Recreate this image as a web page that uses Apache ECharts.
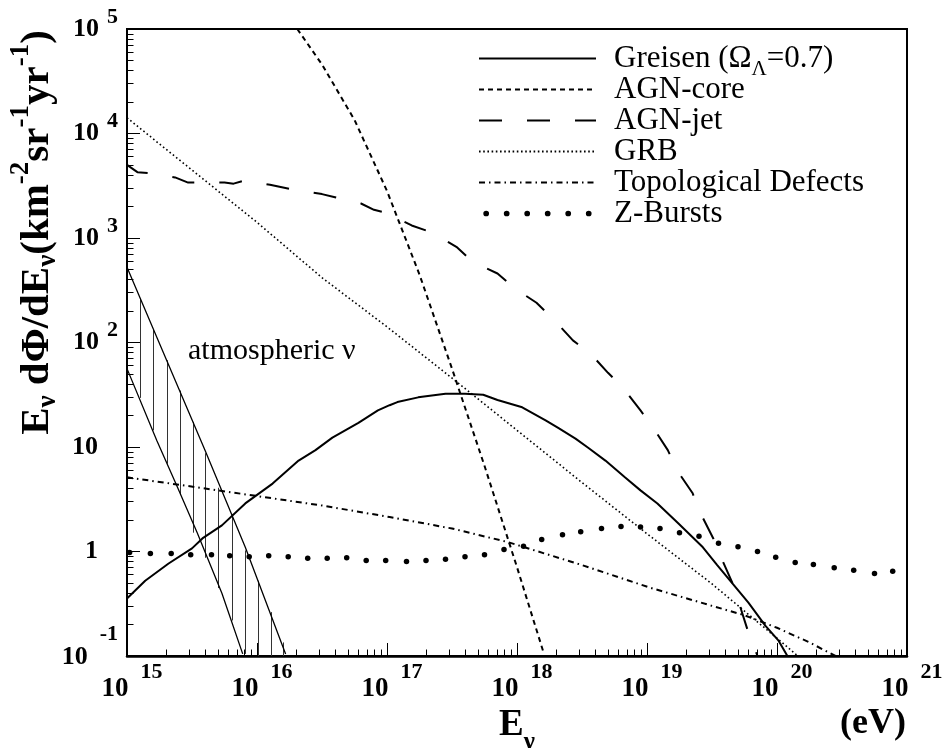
<!DOCTYPE html>
<html><head><meta charset="utf-8">
<script src="https://cdn.jsdelivr.net/npm/echarts@6/dist/echarts.min.js"></script>
<style>html,body{margin:0;padding:0;background:#fff}#c{width:947px;height:748px}</style>
</head><body><div id="c"></div>
<script>
// ---- tick values (powers of ten) ----
const xTickExp = [15, 16, 17, 18, 19, 20, 21];
const yTickExp = [-1, 0, 1, 2, 3, 4, 5];
const minorMult = [2, 3, 4, 5, 6, 7, 8, 9];

// ---- series data: log10(E/eV) and log10(flux) ----
const greisenLgE = [15.0, 15.14, 15.32, 15.5, 15.58, 15.73, 15.91, 16.12, 16.32, 16.45, 16.58, 16.78, 16.93, 17.02, 17.08, 17.24, 17.45, 17.6, 17.74, 17.85, 18.04, 18.22, 18.32, 18.45, 18.55, 18.68, 18.83, 18.95, 19.08, 19.24, 19.43, 19.54, 19.66, 19.78, 19.91, 20.01, 20.08];
const greisenLgF = [-0.45, -0.28, -0.115, 0.03, 0.125, 0.25, 0.46, 0.65, 0.87, 0.97, 1.09, 1.23, 1.35, 1.40, 1.43, 1.475, 1.51, 1.51, 1.50, 1.45, 1.38, 1.255, 1.18, 1.08, 0.99, 0.87, 0.71, 0.585, 0.46, 0.27, 0.04, -0.13, -0.31, -0.49, -0.71, -0.85, -1.0];

const agnCoreLgE = [16.31, 16.5, 16.75, 17.0, 17.25, 17.5, 17.75, 18.0, 18.2];
const agnCoreLgF = [5.0, 4.66, 4.13, 3.45, 2.65, 1.75, 0.82, -0.15, -0.95];

const agnJetLgE = [15.0, 15.08, 15.17, 15.37, 15.47, 15.55, 15.75, 15.82, 15.9, 16.1, 16.25, 16.5, 16.6, 16.8, 16.9, 17.0, 17.19, 17.35, 17.54, 17.66, 17.85, 17.98, 18.15, 18.29, 18.43, 18.56, 18.7, 18.82, 18.95, 19.05, 19.16, 19.24, 19.35, 19.42, 19.51, 19.58, 19.66, 19.72, 19.78, 19.85];
const agnJetLgF = [3.70, 3.63, 3.62, 3.58, 3.53, 3.53, 3.53, 3.52, 3.55, 3.51, 3.47, 3.42, 3.39, 3.33, 3.27, 3.24, 3.12, 3.05, 2.91, 2.77, 2.66, 2.52, 2.38, 2.21, 2.02, 1.90, 1.71, 1.56, 1.35, 1.18, 0.97, 0.76, 0.56, 0.345, 0.125, -0.086, -0.31, -0.54, -0.776, -1.0];

const grbLgE = [15.0, 15.55, 16.0, 16.5, 17.0, 17.55, 18.0, 18.5, 19.0, 19.5, 20.0, 20.16];
const grbLgF = [4.15, 3.60, 3.15, 2.62, 2.15, 1.61, 1.16, 0.66, 0.17, -0.31, -0.83, -1.0];

const tdLgE = [15.0, 15.7, 16.5, 17.02, 17.5, 17.93, 18.5, 19.02, 19.5, 19.75, 20.0, 20.25, 20.45];
const tdLgF = [0.71, 0.585, 0.44, 0.33, 0.22, 0.09, -0.13, -0.345, -0.52, -0.61, -0.73, -0.87, -1.0];

const zbLgE = [15.02, 15.18, 15.34, 15.49, 15.65, 15.79, 15.94, 16.09, 16.24, 16.39, 16.54, 16.69, 16.84, 16.99, 17.15, 17.3, 17.45, 17.6, 17.75, 17.9, 18.05, 18.19, 18.35, 18.49, 18.65, 18.8, 18.95, 19.1, 19.25, 19.4, 19.55, 19.7, 19.85, 19.99, 20.14, 20.28, 20.44, 20.59, 20.75, 20.89];
const zbLgF = [-0.01, -0.02, -0.02, -0.03, -0.03, -0.04, -0.05, -0.04, -0.05, -0.065, -0.065, -0.06, -0.085, -0.085, -0.095, -0.085, -0.075, -0.05, -0.03, 0.02, 0.05, 0.115, 0.16, 0.19, 0.22, 0.24, 0.235, 0.22, 0.18, 0.145, 0.08, 0.045, 0.0, -0.055, -0.105, -0.125, -0.155, -0.18, -0.21, -0.19];

// atmospheric neutrino band
const atmUpLgE = [15.0, 15.24, 15.6, 15.91, 16.22];
const atmUpLgF = [2.72, 2.02, 0.97, 0.04, -0.98];
const atmLoLgE = [15.0, 15.23, 15.39, 15.54, 15.73, 15.89];
const atmLoLgF = [1.75, 1.06, 0.61, 0.18, -0.40, -0.98];
const hatchLgE = [15.1, 15.2, 15.31, 15.41, 15.51, 15.6, 15.7, 15.81, 15.91, 16.01, 16.11, 16.2];
const hatchHiLgF = [2.42, 2.13, 1.83, 1.54, 1.24, 0.94, 0.61, 0.36, 0.01, -0.28, -0.58, -0.87];
const hatchLoLgF = [1.47, 1.16, 0.84, 0.54, 0.18, -0.06, -0.35, -0.66, -0.98, -1.0, -1.0, -1.0];

const legendNames = ['Greisen', 'AGN-core', 'AGN-jet', 'GRB', 'Topological Defects', 'Z-Bursts'];

// ---- build ----
const F = '"Liberation Serif", "Times New Roman", serif';
const P = v => Math.pow(10, v);
const pts = (xs, ys) => xs.map((x, i) => [P(x), P(ys[i])]);
// tiny inward nudge keeps the end ticks inside the floating-point axis extent
const inside = (v, i, a) => i === a.length - 1 ? v * 0.999999 : (i === 0 ? v * 1.000001 : v);
const xMajor = xTickExp.map(P).map(inside);
const yMajor = yTickExp.map(P).map(inside);
const xMinor = [], yMinor = [];
xTickExp.slice(0, -1).forEach(e => minorMult.forEach(m => xMinor.push(m * P(e))));
yTickExp.slice(0, -1).forEach(e => minorMult.forEach(m => yMinor.push(m * P(e))));

const bold = (size, extra) => Object.assign({fontFamily: F, fontWeight: 'bold', fontSize: size, color: '#000'}, extra || {});

let zbIcon = 'path://M-2,2.8L-1.9,2.8M112,2.8L112.1,2.8';
for (let i = 0; i < 6; i++) {
  const cx = 5 + 20 * i;
  zbIcon += 'M' + (cx - 2.8) + ',2.8a2.8,2.8 0 1,0 5.6,0a2.8,2.8 0 1,0 -5.6,0';
}

const chart = echarts.init(document.getElementById('c'), null, {renderer: 'canvas'});
const lineBase = (name, xs, ys, style) => ({
  name, type: 'line', data: pts(xs, ys), symbol: 'none', showSymbol: false, smooth: false, clip: true,
  itemStyle: {color: '#000'},
  lineStyle: Object.assign({color: '#000', width: 2}, style), silent: true, z: 3
});

chart.setOption({
  backgroundColor: '#fff',
  animation: false,
  grid: {left: 127, top: 29, width: 780, height: 627, show: true, borderColor: '#000', borderWidth: 2,
         containLabel: false, outerBoundsMode: 'none'},
  xAxis: [{
    type: 'log', logBase: 10, min: 1e15, max: 1e21, position: 'bottom',
    axisLine: {onZero: false, lineStyle: {color: '#000', width: 2.5}},
    axisTick: {inside: true, length: 13, customValues: xMajor, lineStyle: {color: '#000', width: 1}},
    axisLabel: {customValues: xMajor, margin: 5,
      formatter: v => '{b|10}{e|' + Math.round(Math.log10(v)) + '}',
      rich: {b: bold(27, {padding: [0, 0, 0, 10]}), e: bold(22, {padding: [0, 0, 34, 12]})}},
    splitLine: {show: false}, minorTick: {show: false},
    name: '{m|E}{s|ν}', nameLocation: 'middle', nameGap: 40, nameMoveOverlap: false,
    nameTextStyle: {rich: {m: bold(37), s: bold(25, {padding: [34, 0, 0, 0]})}}
  }, {
    type: 'log', logBase: 10, min: 1e15, max: 1e21, position: 'bottom',
    axisLine: {show: false, onZero: false},
    axisTick: {inside: true, length: 6.5, customValues: xMinor, lineStyle: {color: '#000', width: 1}},
    axisLabel: {show: false}, splitLine: {show: false}
  }],
  yAxis: [{
    type: 'log', logBase: 10, min: 0.1, max: 1e5, position: 'left',
    axisLine: {onZero: false, lineStyle: {color: '#000', width: 2}},
    axisTick: {inside: true, length: 13, customValues: yMajor, lineStyle: {color: '#000', width: 1}},
    axisLabel: {customValues: yMajor, margin: 9,
      formatter: v => {
        const e = Math.round(Math.log10(v));
        if (e === 0) return '{p|1}';
        if (e === 1) return '{p|10}';
        if (e === -1) return '{n3|10}{e3|-1}';
        return '{b|10}{e|' + e + '}';
      },
      rich: {b: bold(26), e: bold(22, {padding: [0, 0, 24, 8]}), p: bold(26, {padding: [0, 20, 0, 0]}),
             n3: bold(26, {padding: [2, 12, 0, 0]}), e3: bold(22, {padding: [0, 0, 44, 0]})}},
    splitLine: {show: false},
    name: '{m|E}{u|ν}{m| dΦ/dE}{u|ν}{m|(km}{p|-2}{m|sr}{p|-1}{m|yr}{p|-1}{m|)}',
    nameLocation: 'middle', nameRotate: 90, nameGap: 60, nameMoveOverlap: false,
    nameTextStyle: {padding: [0, 0, 0, 220], rich: {m: bold(41), u: bold(27, {padding: [22, 0, 0, 0]}), p: bold(27, {padding: [0, 0, 32, 0]})}}
  }, {
    type: 'log', logBase: 10, min: 0.1, max: 1e5, position: 'left',
    axisLine: {show: false, onZero: false},
    axisTick: {inside: true, length: 6.5, customValues: yMinor, lineStyle: {color: '#000', width: 1}},
    axisLabel: {show: false}, splitLine: {show: false}
  }],
  legend: {
    orient: 'vertical', left: 478, top: 37, padding: 0, itemWidth: 117, itemHeight: 14, itemGap: -12,
    selectedMode: false,
    itemStyle: {opacity: 0},
    data: legendNames.map(n => n === 'Z-Bursts' ? {name: n, icon: zbIcon, itemStyle: {opacity: 1, color: '#000'}} : {name: n}),
    formatter: n => n === 'Greisen' ? '{n|Greisen (Ω}{s|Λ}{n|=0.7)}' : n,
    textStyle: {fontFamily: F, fontSize: 31, color: '#000', lineHeight: 43, padding: [0, 0, 0, 13],
      rich: {n: {fontFamily: F, fontSize: 31, lineHeight: 43, color: '#000'},
             s: {fontFamily: F, fontSize: 21, lineHeight: 21, color: '#000', padding: [22, 0, 0, 0]}}}
  },
  graphic: [
    {type: 'text', left: 188, top: 336, silent: true,
     style: {text: 'atmospheric ν', font: '30px "Liberation Serif"', fill: '#000'}},
    {type: 'text', right: 41, top: 706, silent: true,
     style: {text: '(eV)', font: 'bold 36px "Liberation Serif"', fill: '#000'}}
  ],
  series: [
    lineBase('Greisen', greisenLgE, greisenLgF, {width: 2}),
    lineBase('AGN-core', agnCoreLgE, agnCoreLgF, {width: 2, type: [5, 4]}),
    lineBase('AGN-jet', agnJetLgE, agnJetLgF, {width: 2, type: [23, 25]}),
    lineBase('GRB', grbLgE, grbLgF, {width: 1.6, type: [1.6, 2.6]}),
    lineBase('Topological Defects', tdLgE, tdLgF, {width: 2, type: [6, 4, 1.5, 4]}),
    {name: 'Z-Bursts', type: 'scatter', data: pts(zbLgE, zbLgF), symbol: 'circle', symbolSize: 5.5,
     itemStyle: {color: '#000', opacity: 1}, silent: true, clip: true, z: 3},
    lineBase('atm-upper', atmUpLgE, atmUpLgF, {width: 1.3}),
    lineBase('atm-lower', atmLoLgE, atmLoLgF, {width: 1.3}),
    {name: 'atm-hatch', type: 'lines', coordinateSystem: 'cartesian2d', polyline: false, silent: true,
     lineStyle: {color: '#333', width: 1, opacity: 1},
     data: hatchLgE.map((x, i) => ({coords: [[P(x), P(hatchLoLgF[i])], [P(x), P(hatchHiLgF[i])]]}))}
  ]
});
</script></body></html>
